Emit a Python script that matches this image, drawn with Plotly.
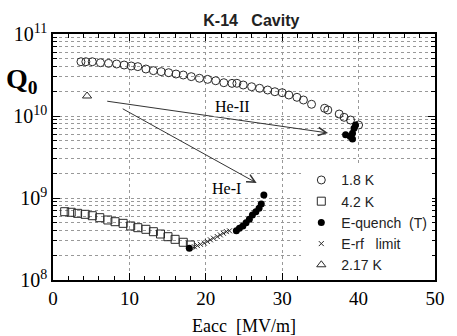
import plotly.graph_objects as go

# ---- data ----
e_18K = [3.66, 4.3, 5.14, 6.21, 7.27, 8.33, 9.31, 10.24, 11.1, 12.16, 13.14, 14.16, 15.14,
         16.1, 17.05, 18.1, 19.17, 20.24, 21.3, 22.36, 23.43, 24.07, 24.9, 26.0, 27.04,
         28.1, 29.04, 30.0, 30.87, 31.93, 32.78, 33.84, 35.55, 35.97, 37.46, 38.1, 38.94, 40.0]
logq_18K = [10.662, 10.662, 10.662, 10.65, 10.642, 10.634, 10.622, 10.61, 10.602, 10.573,
            10.553, 10.541, 10.528, 10.512, 10.5, 10.48, 10.46, 10.447, 10.43, 10.406,
            10.398, 10.399, 10.378, 10.357, 10.338, 10.317, 10.296, 10.284, 10.256, 10.228,
            10.195, 10.143, 10.094, 10.073, 10.024, 9.984, 9.951, 9.89]

e_42K = [1.53, 2.38, 3.22, 4.21, 5.14, 6.12, 7.18, 8.12, 9.18, 10.17, 11.1, 12.16, 13.14,
         14.07, 15.05, 15.98, 17.05, 17.98]
logq_42K = [8.833, 8.826, 8.813, 8.801, 8.784, 8.76, 8.732, 8.711, 8.691, 8.659, 8.638,
            8.618, 8.589, 8.561, 8.528, 8.496, 8.46, 8.427]

e_quench = [17.85, 24.0, 24.4, 24.85, 25.27, 25.7, 26.1, 26.55, 26.97, 27.26, 27.6,
            38.3, 38.9, 39.2, 39.4, 39.6, 39.2]
logq_quench = [8.387, 8.601, 8.63, 8.659, 8.699, 8.74, 8.793, 8.833, 8.874, 8.927, 9.037,
               9.77, 9.75, 9.79, 9.85, 9.89, 9.72]

e_rf = [18.5, 18.9, 19.3, 19.8, 20.2, 20.6, 21.0, 21.5, 21.9, 22.3, 22.7, 23.1]
logq_rf = [8.406, 8.42, 8.435, 8.45, 8.47, 8.49, 8.51, 8.53, 8.55, 8.57, 8.59, 8.60]

e_217K = [4.46]
logq_217K = [10.244]

x_ticks = [0, 10, 20, 30, 40, 50]
y_ticks = [1e8, 1e9, 1e10, 1e11]
y_ticktext = ["10<sup>8</sup>", "10<sup>9</sup>", "10<sup>10</sup>", "10<sup>11</sup>"]

def q(vals):
    return [10 ** v for v in vals]

INK = "#2a2a2a"
SERIF = "Liberation Serif, Times New Roman, serif"
SANS = "Liberation Sans, Arial, sans-serif"

fig = go.Figure()
fig.add_trace(go.Scatter(x=e_18K, y=q(logq_18K), mode="markers", name="1.8 K",
                         marker=dict(symbol="circle-open", size=8, color=INK, line=dict(width=1))))
fig.add_trace(go.Scatter(x=e_42K, y=q(logq_42K), mode="markers", name="4.2 K",
                         marker=dict(symbol="square-open", size=8, color=INK, line=dict(width=1))))
fig.add_trace(go.Scatter(x=e_quench, y=q(logq_quench), mode="markers", name="E-quench&nbsp;&nbsp;(T)",
                         marker=dict(symbol="circle", size=7, color="black")))
fig.add_trace(go.Scatter(x=e_rf, y=q(logq_rf), mode="markers", name="E-rf&nbsp;&nbsp;&nbsp;limit",
                         marker=dict(symbol="x-thin", size=5, color=INK, line=dict(width=1, color=INK))))
fig.add_trace(go.Scatter(x=e_217K, y=q(logq_217K), mode="markers", name="2.17 K",
                         marker=dict(symbol="triangle-up-open", size=8, color=INK, line=dict(width=1))))

minor_y = [m * 10 ** d for d in (8, 9, 10) for m in range(2, 10)]

fig.update_xaxes(range=[0, 50], tickvals=x_ticks, ticks="inside", ticklen=7, tickwidth=1.2,
                 tickcolor="black", showline=True, linecolor="black", linewidth=1.5,
                 mirror="ticks", showgrid=True, gridcolor="#999", griddash="dot", gridwidth=1,
                 zeroline=False,
                 tickfont=dict(family=SERIF, size=19, color="black"),
                 minor=dict(dtick=2, ticks="inside", ticklen=4, tickcolor="black", showgrid=False))
fig.update_yaxes(type="log", range=[8, 11], tickvals=y_ticks, ticktext=y_ticktext,
                 ticks="inside", ticklen=7, tickwidth=1.2, tickcolor="black",
                 showline=True, linecolor="black", linewidth=1.5, mirror="ticks",
                 showgrid=True, gridcolor="#999", griddash="dot", gridwidth=1, zeroline=False,
                 tickfont=dict(family=SERIF, size=20, color="black"),
                 minor=dict(tickvals=minor_y, ticks="inside", ticklen=4, tickcolor="black",
                            showgrid=True, gridcolor="#999", griddash="dot", gridwidth=1))

arrow = dict(xref="x", yref="y", axref="x", ayref="y", text="", showarrow=True,
             arrowhead=5, arrowsize=1.6, arrowwidth=1, arrowcolor="#333")
annotations = [
    dict(x=36.0, y=9.793, ax=6.9, ay=10.183, **arrow),
    dict(x=26.66, y=9.183, ax=8.93, ay=10.098, **arrow),
    dict(x=23.5, y=10.122, xref="x", yref="y", text="He-II", showarrow=False,
         font=dict(family=SERIF, size=16, color="black"), bgcolor="white"),
    dict(x=22.7, y=9.11, xref="x", yref="y", text="He-I", showarrow=False,
         font=dict(family=SERIF, size=16, color="black"), bgcolor="white"),
    dict(x=-0.08, y=0.81, xref="paper", yref="paper", text="<b>Q<sub>0</sub></b>",
         xanchor="center", yanchor="middle",
         showarrow=False, font=dict(family=SERIF, size=28, color="black")),
    dict(x=0.5, y=-0.187, xref="paper", yref="paper", text="Eacc&nbsp;&nbsp;[MV/m]",
         xanchor="center", yanchor="middle",
         showarrow=False, font=dict(family=SERIF, size=18, color="black")),
]

fig.update_layout(
    width=457, height=336,
    margin=dict(l=53, r=12, t=34, b=56),
    paper_bgcolor="white", plot_bgcolor="white",
    title=dict(text="<b>K-14&nbsp;&nbsp;&nbsp;Cavity</b>", x=0.55, xanchor="center",
               y=1 - 20 / 336, yanchor="middle",
               font=dict(family=SANS, size=16, color="#222")),
    showlegend=True,
    legend=dict(x=0.65, y=0.47, xanchor="left", yanchor="top", bgcolor="white",
                font=dict(family=SANS, size=14, color="#222"), tracegroupgap=0),
    annotations=annotations,
)

fig.write_html("out.html")
